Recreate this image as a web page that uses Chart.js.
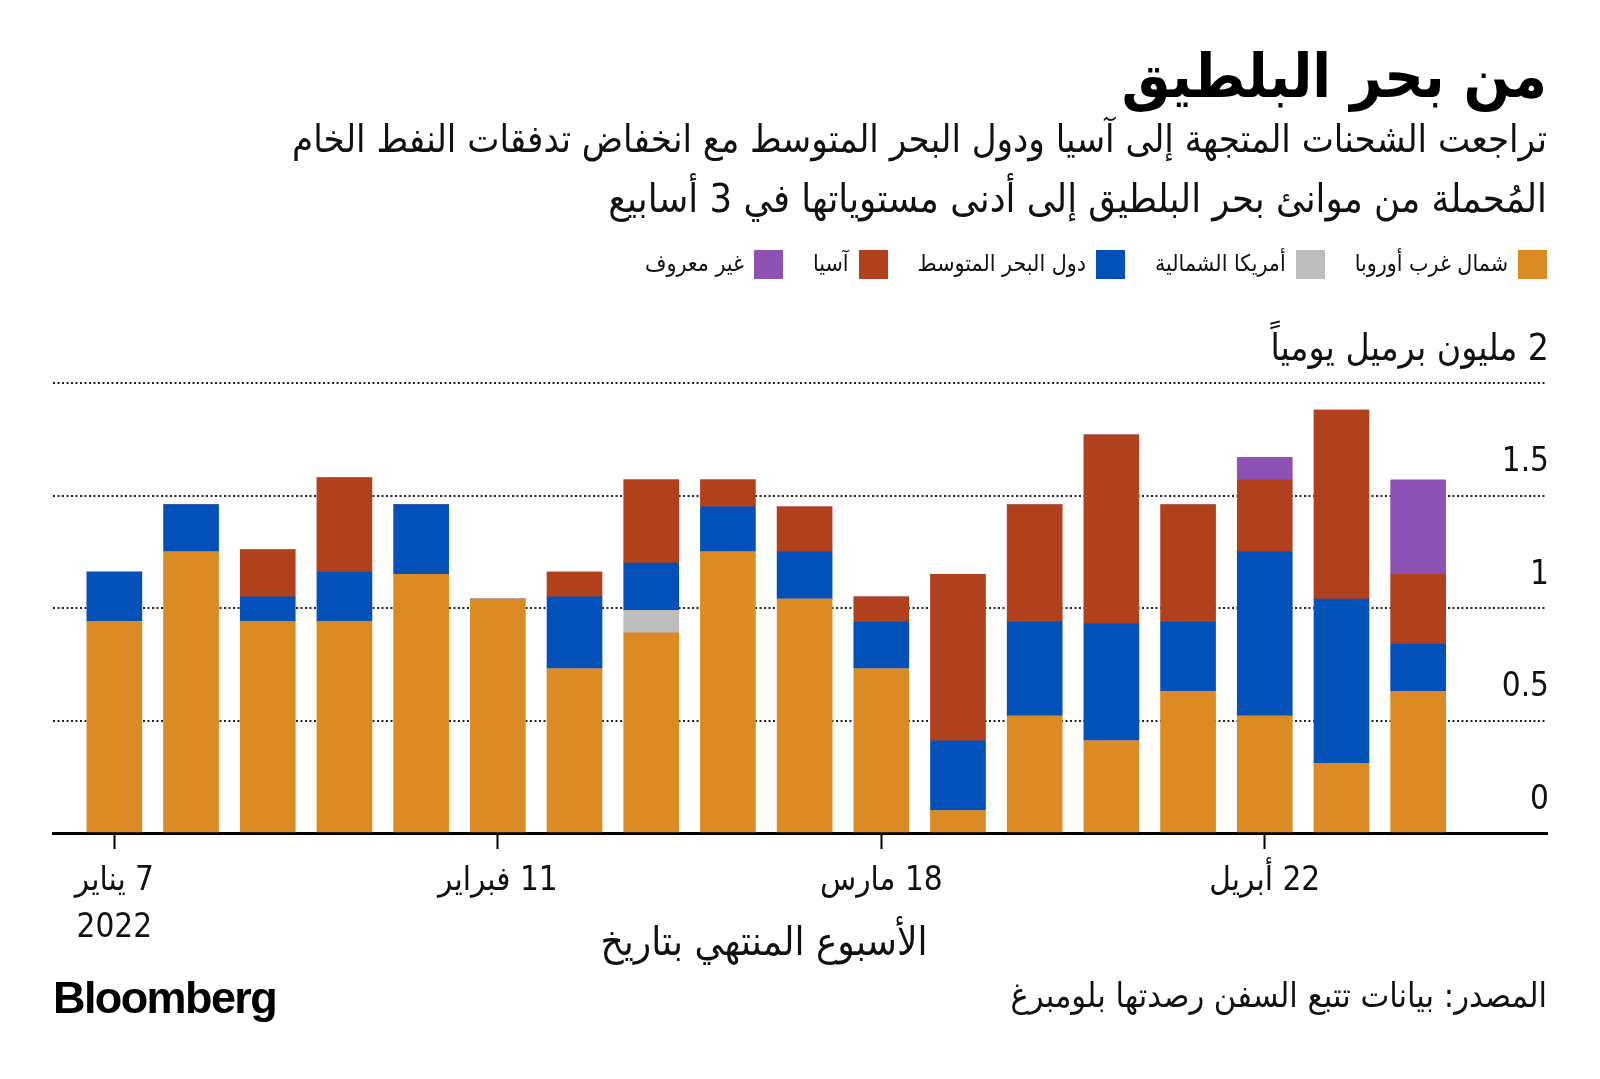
<!DOCTYPE html>
<html lang="ar">
<head>
<meta charset="utf-8">
<title>من بحر البلطيق</title>
<script src="https://cdn.jsdelivr.net/npm/chart.js@4.4.1/dist/chart.umd.min.js"></script>
<style>
  html, body { margin: 0; padding: 0; background: #fff; }
  body { position: relative; width: 1600px; height: 1079px; overflow: hidden;
         font-family: "DejaVu Sans Condensed", "DejaVu Sans", sans-serif; font-stretch: condensed; color: #111; }
  #chartBox { position: absolute; left: 0; top: 0; width: 1600px; height: 1079px; }
  #chartBox canvas { direction: rtl; }
  .rtl { position: absolute; direction: rtl; white-space: nowrap; }
  #title { right: 53px; top: 36px; font-size: 61px; line-height: 80px; font-weight: bold; color: #000; }
  #sub { right: 53px; top: 110px; font-size: 38px; line-height: 59px; }
  #sub .l2 { font-size: 39.5px; }
  #legend { right: 53px; top: 248px; display: flex; gap: 30px; font-size: 23px; line-height: 30px; }
  #legend .sw { display: inline-block; width: 29px; height: 29px; margin-left: 10px; vertical-align: middle; }
  #xTitle { left: 764px; transform: translateX(-50%); top: 916px; font-size: 40px; line-height: 50px; }
  #source { right: 53px; top: 974px; font-size: 34px; line-height: 42px; }
  #logo { position: absolute; left: 53px; top: 974px; font-family: "Liberation Sans", Arial, sans-serif;
          font-weight: bold; font-size: 45px; letter-spacing: -1.6px; line-height: 48px; color: #000; }
</style>
</head>
<body>
<div id="chartBox"><canvas id="chart"></canvas></div>
<div id="title" class="rtl">من بحر البلطيق</div>
<div id="sub" class="rtl">تراجعت الشحنات المتجهة إلى آسيا ودول البحر المتوسط مع انخفاض تدفقات النفط الخام<br><span class="l2">المُحملة من موانئ بحر البلطيق إلى أدنى مستوياتها في 3 أسابيع</span></div>
<div id="legend" class="rtl"></div>
<div id="xTitle" class="rtl">الأسبوع المنتهي بتاريخ</div>
<div id="source" class="rtl">المصدر: بيانات تتبع السفن رصدتها بلومبرغ</div>
<div id="logo">Bloomberg</div>
<script>
// week ending dates, one bar each
const weeks = ['2022-01-07', '2022-01-14', '2022-01-21', '2022-01-28', '2022-02-04', '2022-02-11',
  '2022-02-18', '2022-02-25', '2022-03-04', '2022-03-11', '2022-03-18', '2022-03-25',
  '2022-04-01', '2022-04-08', '2022-04-15', '2022-04-22', '2022-04-29', '2022-05-06'];

// million barrels a day, by destination
const nwEurope     = [0.94, 1.25, 0.94, 0.94, 1.15, 1.04, 0.73, 0.89, 1.25, 1.04, 0.73, 0.10, 0.52, 0.41, 0.63, 0.52, 0.31, 0.63];
const northAmerica = [0, 0, 0, 0, 0, 0, 0, 0.10, 0, 0, 0, 0, 0, 0, 0, 0, 0, 0];
const med          = [0.22, 0.21, 0.11, 0.22, 0.31, 0, 0.32, 0.21, 0.20, 0.21, 0.21, 0.31, 0.42, 0.52, 0.31, 0.73, 0.73, 0.21];
const asia         = [0, 0, 0.21, 0.42, 0, 0, 0.11, 0.37, 0.12, 0.20, 0.11, 0.74, 0.52, 0.84, 0.52, 0.32, 0.84, 0.31];
const unknown      = [0, 0, 0, 0, 0, 0, 0, 0, 0, 0, 0, 0, 0, 0, 0, 0.10, 0, 0.42];

const seriesNames  = ['شمال غرب أوروبا', 'أمريكا الشمالية', 'دول البحر المتوسط', 'آسيا', 'غير معروف'];
const seriesColors = ['#DB8A24', '#BDBDBD', '#0450B9', '#B1401D', '#8E52B5'];
const seriesValues = [nwEurope, northAmerica, med, asia, unknown];

const tickDates  = ['2022-01-07', '2022-02-11', '2022-03-18', '2022-04-22'];
const tickLabels = [['7 يناير', '2022'], '11 فبراير', '18 مارس', '22 أبريل'];
const unitLabel  = 'مليون برميل يومياً';

const fontFamily = '"DejaVu Sans Condensed", "DejaVu Sans", sans-serif';

// html legend, right to left like the original
const legendEl = document.getElementById('legend');
seriesNames.forEach((name, i) => {
  const item = document.createElement('div');
  item.innerHTML = '<span class="sw" style="background:' + seriesColors[i] + '"></span>' + name;
  legendEl.appendChild(item);
});

new Chart(document.getElementById('chart'), {
  type: 'bar',
  data: {
    labels: weeks.map((w, i) => i),
    datasets: seriesNames.map((name, i) => ({
      label: name,
      data: seriesValues[i],
      backgroundColor: seriesColors[i],
      borderWidth: 0,
      barThickness: 55
    }))
  },
  options: {
    responsive: true,
    maintainAspectRatio: false,
    animation: false,
    layout: { padding: { left: 53, right: 53, top: 383, bottom: 126 } },
    plugins: { legend: { display: false }, tooltip: { enabled: false } },
    scales: {
      x: {
        type: 'linear',
        stacked: true,
        offset: false,
        min: -0.8,
        max: 18.68,
        afterBuildTicks: s => { s.ticks = tickDates.map(d => ({ value: weeks.indexOf(d) })); },
        afterFit: s => { s.height = 120; },
        grid: { display: true, offset: false, drawOnChartArea: false, drawTicks: true, tickLength: 16, tickColor: '#000', tickWidth: 2 },
        border: { display: true, color: '#000', width: 3 },
        ticks: {
          autoSkip: false,
          maxRotation: 0,
          padding: 8,
          color: '#111',
          font: { family: fontFamily, size: 33, lineHeight: 1.45 },
          callback: v => tickLabels[tickDates.indexOf(weeks[v])]
        }
      },
      y: {
        position: 'right',
        stacked: true,
        min: 0,
        max: 2,
        afterFit: s => { s.width = 0; },
        grid: {
          drawTicks: false,
          lineWidth: 2,
          color: c => (c.tick && c.tick.value === 0) ? 'rgba(0,0,0,0)' : '#222'
        },
        border: { display: false, dash: [2, 2.5] },
        ticks: {
          stepSize: 0.5,
          mirror: true,
          padding: 2,
          labelOffset: -33,
          color: '#111',
          font: c => ({ family: fontFamily, size: (c.tick && c.tick.value === 2) ? 37 : 33 }),
          callback: v => v === 2 ? '2 ' + unitLabel : String(v)
        }
      }
    }
  }
});
</script>
</body>
</html>
